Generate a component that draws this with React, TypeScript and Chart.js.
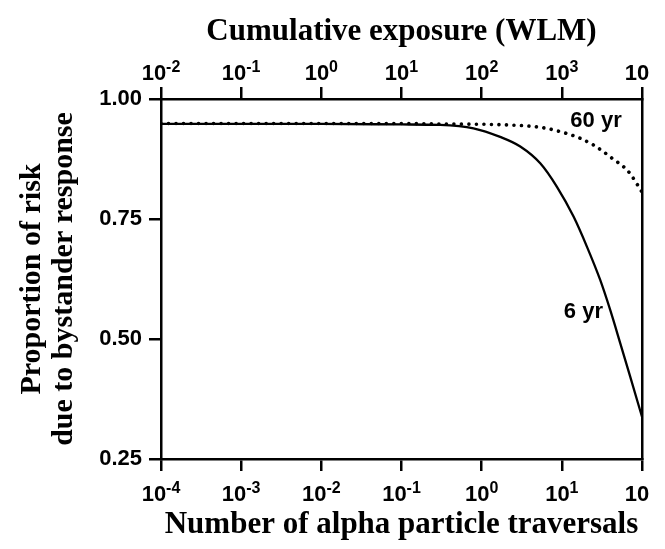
import React, { useEffect, useRef } from "react";
import { Chart, registerables } from "chart.js";

Chart.register(...registerables);

// ---- data ----
const traversals6yr = [1e-4, 1e-3, 1e-2, 0.1, 0.303, 0.79, 1.7, 3.03, 5.38, 8.69, 14.0, 20.6, 30.1, 40.2, 53.6, 71.4, 100];
const risk6yr = [0.948, 0.948, 0.948, 0.947, 0.946, 0.939, 0.921, 0.901, 0.866, 0.817, 0.755, 0.692, 0.623, 0.56, 0.491, 0.421, 0.338];

const traversals60yr = [1e-4, 1e-3, 1e-2, 0.1, 0.303, 2.07, 5.38, 9.55, 17.0, 24.9, 33.1, 44.3, 58.9, 71.4, 86.5, 100];
const risk60yr = [0.949, 0.949, 0.949, 0.949, 0.948, 0.946, 0.941, 0.932, 0.918, 0.904, 0.89, 0.874, 0.859, 0.844, 0.823, 0.806];

const bottomTickValues = [1e-4, 1e-3, 1e-2, 1e-1, 1, 10, 100];
const bottomTickBases = ["10", "10", "10", "10", "10", "10", "10"];
const bottomTickExponents = ["-4", "-3", "-2", "-1", "0", "1", ""];

const topTickValues = [1e-2, 1e-1, 1, 10, 100, 1000, 10000];
const topTickBases = ["10", "10", "10", "10", "10", "10", "10"];
const topTickExponents = ["-2", "-1", "0", "1", "2", "3", ""];

const yTickValues = [0.25, 0.5, 0.75, 1.0];
const yTickLabels = ["0.25", "0.50", "0.75", "1.00"];

const curveNames = ["60 yr", "6 yr"];
const curveNameX = [26.7, 18.6];
const curveNameY = [0.955, 0.557];

const SANS = "'Liberation Sans', Arial, sans-serif";
const SERIF = "'Liberation Serif', 'Times New Roman', serif";

const curveLabelPlugin = {
  id: "curveLabels",
  afterDatasetsDraw(chart: any) {
    const { ctx, scales } = chart;
    const x = scales.x;
    const y = scales.y;
    ctx.save();
    ctx.font = `bold 22px ${SANS}`;
    ctx.fillStyle = "#000";
    ctx.textAlign = "center";
    ctx.textBaseline = "middle";
    curveNames.forEach((t, i) => {
      ctx.fillText(t, x.getPixelForValue(curveNameX[i]), y.getPixelForValue(curveNameY[i]));
    });
    ctx.restore();
  },
};

// power-of-ten tick labels with raised exponents
function drawPowerLabels(ctx: any, scale: any, values: number[], bases: string[], exps: string[], baseline: number) {
  const baseFont = `bold 22px ${SANS}`;
  const expFont = `bold 16px ${SANS}`;
  values.forEach((v, i) => {
    const px = scale.getPixelForValue(v);
    ctx.font = baseFont;
    const wb = ctx.measureText(bases[i]).width;
    ctx.font = expFont;
    const we = exps[i] ? ctx.measureText(exps[i]).width : 10;
    const start = px - (wb + we) / 2;
    ctx.font = baseFont;
    ctx.fillText(bases[i], start, baseline);
    if (exps[i]) {
      ctx.font = expFont;
      ctx.fillText(exps[i], start + wb, baseline - 8);
    }
  });
}

const powerLabelPlugin = {
  id: "powerLabels",
  afterDraw(chart: any) {
    const { ctx, scales } = chart;
    ctx.save();
    ctx.fillStyle = "#000";
    ctx.textAlign = "left";
    ctx.textBaseline = "alphabetic";
    drawPowerLabels(ctx, scales.x, bottomTickValues, bottomTickBases, bottomTickExponents, 501);
    drawPowerLabels(ctx, scales.x2, topTickValues, topTickBases, topTickExponents, 80);
    ctx.restore();
  },
};

const axisGrid = {
  display: true,
  drawOnChartArea: false,
  drawTicks: true,
  tickLength: 12,
  tickWidth: 2.5,
  tickColor: "#000",
  color: "#000",
  lineWidth: 2.5,
};
const axisBorder = { display: true, color: "#000", width: 2.5 };
const titleFont = { family: SERIF, size: 31, weight: "bold" as const };

export default function App() {
  const ref = useRef<HTMLCanvasElement | null>(null);

  useEffect(() => {
    document.body.style.margin = "0";
    const canvas = ref.current;
    if (!canvas) return;
    const chart = new Chart(canvas, {
      type: "line",
      data: {
        datasets: [
          {
            label: "60 yr",
            data: traversals60yr.map((v, i) => ({ x: v, y: risk60yr[i] })),
            borderColor: "#000",
            borderWidth: 3.6,
            borderCapStyle: "round",
            borderDash: [0.01, 7.5],
            pointRadius: 0,
            cubicInterpolationMode: "monotone",
            xAxisID: "x",
            yAxisID: "y",
          },
          {
            label: "6 yr",
            data: traversals6yr.map((v, i) => ({ x: v, y: risk6yr[i] })),
            borderColor: "#000",
            borderWidth: 2.3,
            pointRadius: 0,
            cubicInterpolationMode: "monotone",
            xAxisID: "x",
            yAxisID: "y",
          },
        ],
      },
      options: {
        animation: false,
        responsive: false,
        maintainAspectRatio: false,
        layout: { padding: { left: 0, right: 23, top: 0, bottom: 0 } },
        plugins: {
          legend: { display: false },
          tooltip: { enabled: false },
        },
        scales: {
          x: {
            type: "logarithmic",
            position: "bottom",
            min: 1e-4,
            max: 100,
            afterBuildTicks: (s: any) => {
              s.ticks = bottomTickValues.map((v) => ({ value: v }));
            },
            afterFit: (s: any) => {
              s.height = 90;
            },
            ticks: { display: false, autoSkip: false },
            grid: axisGrid,
            border: axisBorder,
            title: {
              display: true,
              text: "Number of alpha particle traversals",
              color: "#000",
              font: titleFont,
              padding: { top: 0, bottom: 5 },
            },
          },
          x2: {
            type: "logarithmic",
            position: "top",
            min: 1e-2,
            max: 1e4,
            afterBuildTicks: (s: any) => {
              s.ticks = topTickValues.map((v) => ({ value: v }));
            },
            afterFit: (s: any) => {
              s.height = 99;
            },
            ticks: { display: false, autoSkip: false },
            grid: axisGrid,
            border: axisBorder,
            title: {
              display: true,
              text: "Cumulative exposure (WLM)",
              color: "#000",
              font: titleFont,
              padding: { top: 13, bottom: 0 },
            },
          },
          y: {
            type: "linear",
            position: "left",
            min: 0.25,
            max: 1.0,
            afterBuildTicks: (s: any) => {
              s.ticks = yTickValues.map((v) => ({ value: v }));
            },
            afterFit: (s: any) => {
              s.width = 161;
            },
            ticks: {
              color: "#000",
              font: { family: SANS, size: 22, weight: "bold" },
              padding: 7,
              callback: (_v: any, i: number) => yTickLabels[i],
            },
            grid: axisGrid,
            border: axisBorder,
            title: {
              display: true,
              text: ["Proportion of risk", "due to bystander response"],
              color: "#000",
              font: { family: SERIF, size: 30, weight: "bold", lineHeight: 1.0667 },
              padding: { top: 16, bottom: 0 },
            },
          },
          y2: {
            type: "linear",
            position: "right",
            min: 0,
            max: 1,
            afterFit: (s: any) => {
              s.width = 0;
            },
            ticks: { display: false },
            grid: { display: false, drawTicks: false },
            border: axisBorder,
          },
        },
      },
      plugins: [curveLabelPlugin, powerLabelPlugin],
    } as any);
    return () => chart.destroy();
  }, []);

  return (
    <div style={{ width: 665, height: 549 }}>
      <canvas ref={ref} width={665} height={549} style={{ display: "block" }} />
    </div>
  );
}
